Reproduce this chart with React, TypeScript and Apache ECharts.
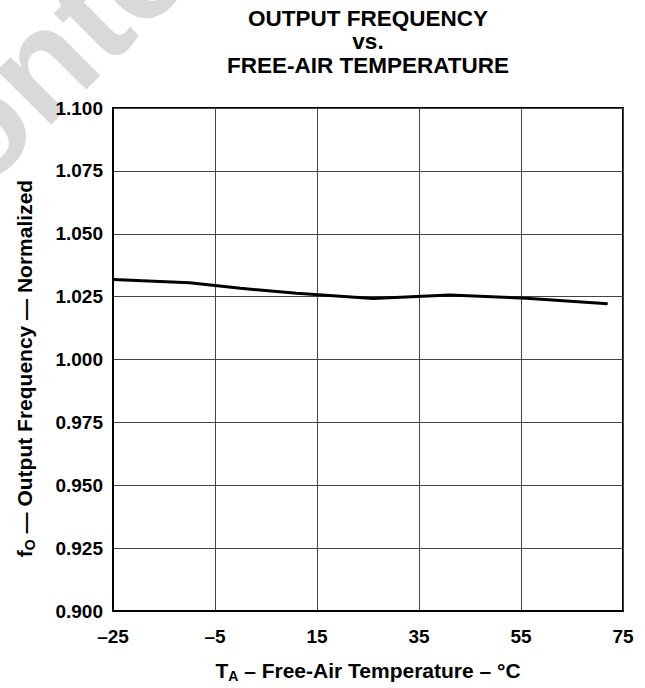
import React, { useEffect, useRef } from "react";
import * as echarts from "echarts";

const temps = [-25, -10, 0, 11, 26, 41, 56, 72];
const freqNorm = [1.0318, 1.0305, 1.0283, 1.0263, 1.0243, 1.0256, 1.0244, 1.0222];
const xTicks = [-25, -5, 15, 35, 55, 75];
const yTicks = [0.9, 0.925, 0.95, 0.975, 1.0, 1.025, 1.05, 1.075, 1.1];
const titleLines = ["OUTPUT FREQUENCY", "vs.", "FREE-AIR TEMPERATURE"];

const FONT = '"Liberation Sans", Arial, Helvetica, sans-serif';

export default function App() {
  const ref = useRef<HTMLDivElement>(null);
  useEffect(() => {
    if (!ref.current) return;
    const chart = echarts.init(ref.current, undefined, { renderer: "svg" });
    const xInterval = xTicks[1] - xTicks[0];
    const yInterval = 0.025;
    chart.setOption({
      animation: false,
      backgroundColor: "#fff",
      title: titleLines.map((t, i) => ({
        text: t,
        left: 368,
        top: 7.5 + i * 23.4,
        textAlign: "center",
        padding: 0,
        textStyle: {
          fontFamily: FONT,
          fontWeight: "bold",
          fontSize: 22.5,
          lineHeight: 22,
          color: "#000",
        },
      })),
      graphic: [
        {
          type: "text",
          x: -54,
          y: 159,
          rotation: Math.PI / 4,
          z: -10,
          silent: true,
          style: {
            text: "onte",
            font: 'bold 145px "Liberation Sans", Arial, sans-serif',
            fill: "#d9d9d9",
            align: "left",
            verticalAlign: "middle",
          },
        },
      ],
      grid: {
        left: 113,
        right: 22,
        top: 108,
        bottom: 73,
        show: true,
        borderColor: "#000",
        borderWidth: 2,
        backgroundColor: "transparent",
      },
      xAxis: {
        type: "value",
        min: xTicks[0],
        max: xTicks[xTicks.length - 1],
        interval: xInterval,
        axisLine: { show: true, onZero: false, lineStyle: { color: "#000", width: 2 } },
        axisTick: { show: false },
        splitLine: { show: true, lineStyle: { color: "#444", width: 1 } },
        axisLabel: {
          margin: 16,
          fontFamily: FONT,
          fontWeight: "bold",
          fontSize: 19,
          color: "#000",
          formatter: (v: number) => (v < 0 ? "\u2013" + Math.abs(v) : String(v)),
        },
        name: "{a|T}{s|A}{a| \u2013 Free-Air Temperature \u2013 \u00B0C}",
        nameLocation: "middle",
        nameGap: 46,
        nameTextStyle: {
          rich: {
            a: { fontFamily: FONT, fontWeight: "bold", fontSize: 21, color: "#000", lineHeight: 26, verticalAlign: "middle" },
            s: { fontFamily: FONT, fontWeight: "bold", fontSize: 14, color: "#000", lineHeight: 14, verticalAlign: "bottom" },
          },
        },
      },
      yAxis: {
        type: "value",
        min: yTicks[0],
        max: yTicks[yTicks.length - 1],
        interval: yInterval,
        axisLine: { show: true, onZero: false, lineStyle: { color: "#000", width: 2 } },
        axisTick: { show: false },
        splitLine: { show: true, lineStyle: { color: "#444", width: 1 } },
        axisLabel: {
          margin: 10,
          padding: [4, 0, 0, 0],
          fontFamily: FONT,
          fontWeight: "bold",
          fontSize: 19,
          color: "#000",
          formatter: (v: number) => v.toFixed(3),
        },
        name: "{a|f}{s|O}{a| \u2014 Output Frequency \u2014 Normalized}",
        nameLocation: "middle",
        nameGap: 76,
        nameTextStyle: {
          padding: [0, 18, 0, 0],
          rich: {
            a: { fontFamily: FONT, fontWeight: "bold", fontSize: 21, color: "#000", lineHeight: 26, verticalAlign: "middle" },
            s: { fontFamily: FONT, fontWeight: "bold", fontSize: 14, color: "#000", lineHeight: 14, verticalAlign: "bottom" },
          },
        },
      },
      series: [
        {
          type: "line",
          data: temps.map((t, i) => [t, freqNorm[i]]),
          symbol: "none",
          lineStyle: { color: "#000", width: 3 },
          z: 5,
        },
      ],
    });
    return () => chart.dispose();
  }, []);
  return (
    <div
      ref={ref}
      style={{ position: "absolute", left: 0, top: 0, width: 645, height: 688 }}
    />
  );
}
